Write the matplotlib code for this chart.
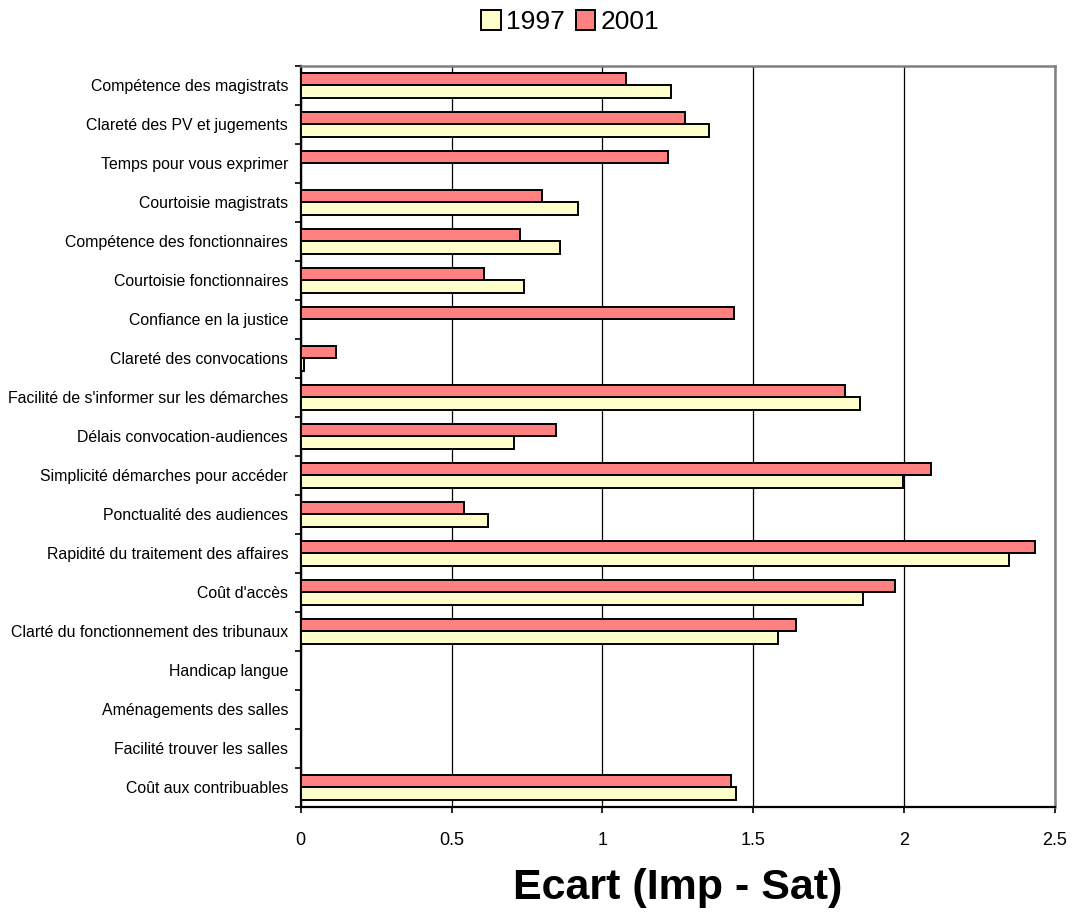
import numpy as np
import matplotlib
matplotlib.use("Agg")
import matplotlib.pyplot as plt

plt.rcParams['font.family'] = ['Liberation Sans', 'DejaVu Sans']

categories = [
    "Compétence des magistrats",
    "Clareté des PV et jugements",
    "Temps pour vous exprimer",
    "Courtoisie magistrats",
    "Compétence des fonctionnaires",
    "Courtoisie fonctionnaires",
    "Confiance en la justice",
    "Clareté des convocations",
    "Facilité de s'informer sur les démarches",
    "Délais convocation-audiences",
    "Simplicité démarches pour accéder",
    "Ponctualité des audiences",
    "Rapidité du traitement des affaires",
    "Coût d'accès",
    "Clarté du fonctionnement des tribunaux",
    "Handicap langue",
    "Aménagements des salles",
    "Facilité trouver les salles",
    "Coût aux contribuables",
]

# ecart importance - satisfaction, NaN = not surveyed that year
ecart_1997 = [1.228, 1.353, np.nan, 0.919, 0.859, 0.740, np.nan, 0.010,
              1.854, 0.706, 1.995, 0.622, 2.348, 1.863, 1.582,
              np.nan, np.nan, np.nan, 1.443]
ecart_2001 = [1.077, 1.272, 1.217, 0.800, 0.728, 0.607, 1.435, 0.117,
              1.803, 0.847, 2.088, 0.540, 2.432, 1.969, 1.643,
              np.nan, np.nan, np.nan, 1.426]

years = ["1997", "2001"]
colors = ["#FFFFCC", "#FF8080"]

fig = plt.figure(figsize=(10.76, 9.23), dpi=100)
ax = fig.add_axes([0.2795, 0.1257, 0.701, 0.8028])

y = np.arange(len(categories))
h = 0.315
b97 = ax.barh(y + h / 2, ecart_1997, height=h, color=colors[0],
              edgecolor="black", linewidth=1.4, label=years[0], zorder=3)
b01 = ax.barh(y - h / 2, ecart_2001, height=h, color=colors[1],
              edgecolor="black", linewidth=1.4, label=years[1], zorder=3)

ax.set_ylim(len(categories) - 0.5, -0.5)
ax.set_xlim(0, 2.5)
ax.set_xticks([0, 0.5, 1, 1.5, 2, 2.5])
ax.set_xticklabels(["0", "0.5", "1", "1.5", "2", "2.5"])
ax.set_yticks(y)
ax.set_yticklabels(categories, fontsize=11.4)
ax.set_yticks(np.arange(-0.5, len(categories), 1), minor=True)
ax.tick_params(axis="y", which="major", length=0, pad=9)
ax.tick_params(axis="y", which="minor", length=4, width=1.2, direction="out")
ax.tick_params(axis="x", length=4, width=1.2, direction="out", pad=14,
               labelsize=13)

ax.grid(axis="x", color="black", linewidth=0.9, zorder=0)
ax.set_axisbelow(True)
for side in ("left", "bottom"):
    ax.spines[side].set_color("black")
    ax.spines[side].set_linewidth(1.6)
for side in ("top", "right"):
    ax.spines[side].set_color("#808080")
    ax.spines[side].set_linewidth(1.8)

ax.set_xlabel("Ecart (Imp - Sat)", fontsize=31, fontweight="bold", labelpad=14)

fig.legend(handles=[b97, b01], labels=years, loc="center",
           bbox_to_anchor=(0.53, 0.976), ncol=2, frameon=False,
           fontsize=19, handlelength=0.75, handleheight=0.75,
           handletextpad=0.2, columnspacing=0.4, borderpad=0)

fig.savefig("out.png", dpi=100)
